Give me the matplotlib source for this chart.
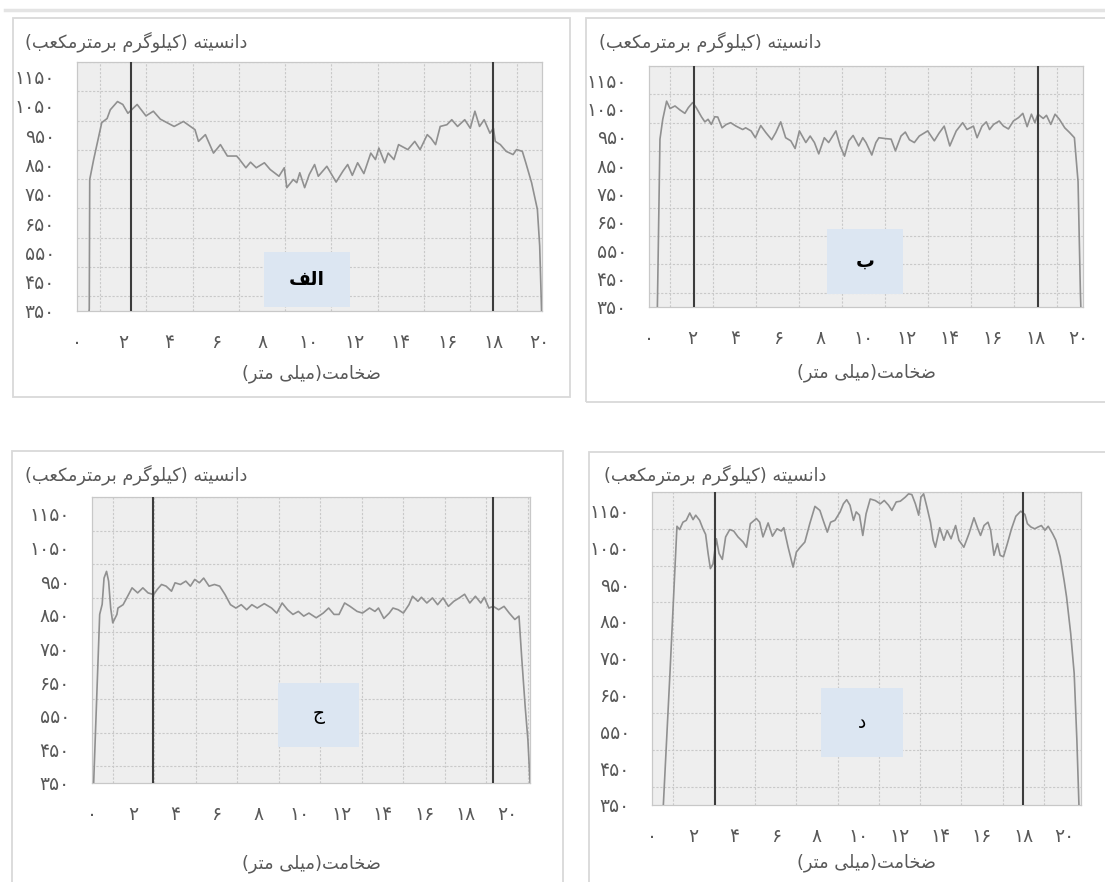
import matplotlib
matplotlib.use("Agg")
import matplotlib.pyplot as plt
from matplotlib.patches import Rectangle
from matplotlib.ticker import MultipleLocator, FixedLocator

plt.rcParams['font.family'] = ['DejaVu Sans']

# --- data: density profiles (kg/m3) across board thickness (mm) ---
x_alef = [0.45, 0.53, 0.55, 0.72, 1.07, 1.3, 1.44, 1.75, 1.98, 2.2, 2.6, 2.98, 3.3, 3.6, 4.2, 4.6,
          5.1, 5.25, 5.55, 5.9, 6.2, 6.5, 6.9, 7.0, 7.3, 7.5, 7.75, 8.1, 8.35, 8.73, 8.96, 9.07,
          9.35, 9.5, 9.63, 9.84, 10.04, 10.27, 10.43, 10.8, 11.2, 11.5, 11.7, 11.9, 12.13, 12.4,
          12.7, 12.9, 13.05, 13.3, 13.45, 13.7, 13.9, 14.3, 14.6, 14.83, 15.14, 15.3, 15.5, 15.7,
          15.99, 16.2, 16.45, 16.76, 17.0, 17.2, 17.4, 17.6, 17.85, 18.0, 18.08, 18.3, 18.55,
          18.85, 19.0, 19.25, 19.4, 19.65, 19.9, 20.0, 20.1]
y_alef = [300, 357, 799, 867, 993, 1007, 1037, 1065, 1055, 1025, 1055, 1016, 1032, 1005, 980, 997,
          969, 929, 952, 889, 918, 879, 879, 870, 839, 858, 839, 856, 833, 810, 839, 771,
          799, 788, 822, 771, 816, 850, 810, 844, 790, 828, 850, 813, 856, 819,
          889, 867, 906, 856, 889, 867, 918, 901, 929, 901, 952, 940, 918, 980,
          986, 1003, 980, 1003, 974, 1032, 980, 1003, 957, 974, 929, 918, 895,
          884, 901, 895, 856, 788, 697, 572, 300]

x_be = [0.38, 0.39, 0.51, 0.64, 0.82, 0.98, 1.21, 1.44, 1.67, 1.83, 2.03, 2.2, 2.44, 2.6, 2.75,
        2.9, 3.06, 3.2, 3.4, 3.6, 3.8, 4.05, 4.36, 4.5, 4.75, 4.95, 5.2, 5.44, 5.71, 5.9, 6.13,
        6.36, 6.6, 6.8, 7.0, 7.3, 7.5, 7.7, 7.9, 8.16, 8.36, 8.7, 8.9, 9.1, 9.3, 9.5, 9.76,
        9.95, 10.1, 10.37, 10.56, 10.7, 11.0, 11.27, 11.47, 11.73, 11.93, 12.12, 12.35, 12.58,
        12.97, 13.28, 13.5, 13.74, 14.0, 14.3, 14.6, 14.8, 15.1, 15.27, 15.5, 15.7, 15.85,
        16.04, 16.3, 16.5, 16.73, 16.96, 17.2, 17.4, 17.6, 17.8, 17.96, 18.1, 18.35, 18.5,
        18.7, 18.9, 19.1, 19.35, 19.58, 19.8, 19.97, 20.08, 20.12]
y_be = [300, 351, 942, 1012, 1076, 1050, 1059, 1045, 1033, 1053, 1071, 1053, 1021, 1003, 1012,
        994, 1021, 1020, 982, 994, 1000, 988, 976, 982, 971, 947, 990, 965, 940, 965, 1003,
        947, 936, 909, 971, 930, 953, 930, 890, 947, 930, 971, 918, 882, 936, 955, 918,
        947, 930, 886, 930, 947, 944, 942, 901, 953, 967, 940, 930, 953,
        971, 936, 963, 988, 918, 971, 1000, 976, 988, 947, 988, 1003, 976,
        994, 1006, 988, 978, 1006, 1018, 1033, 986, 1030, 1000, 1030, 1015, 1026,
        994, 1030, 1012, 982, 965, 947, 792, 397, 300]

x_jim = [0.05, 0.08, 0.37, 0.49, 0.58, 0.7, 0.8, 0.9, 1.0, 1.2, 1.25, 1.5, 1.76, 1.93, 2.2, 2.45,
         2.7, 2.97, 3.14, 3.35, 3.57, 3.83, 4.0, 4.26, 4.52, 4.74, 4.95, 5.17, 5.38, 5.64, 5.9,
         6.15, 6.41, 6.67, 6.93, 7.19, 7.45, 7.7, 7.96, 8.3, 8.65, 8.9, 9.16, 9.42, 9.68, 9.94,
         10.2, 10.45, 10.8, 11.14, 11.4, 11.66, 11.9, 12.17, 12.43, 12.77, 13.03, 13.37, 13.63,
         13.8, 14.06, 14.32, 14.5, 14.75, 15.0, 15.27, 15.44, 15.7, 15.87, 16.13, 16.4, 16.65,
         16.91, 17.17, 17.43, 17.69, 17.95, 18.2, 18.47, 18.73, 18.9, 19.12, 19.33, 19.59,
         19.85, 20.1, 20.37, 20.57, 20.7, 20.87, 21.0, 21.1, 21.12]
y_jim = [300, 350, 851, 881, 959, 979, 950, 870, 826, 851, 870, 880, 910, 930, 915, 930,
         915, 910, 925, 940, 935, 920, 945, 940, 950, 935, 955, 945, 959, 935, 940,
         935, 910, 880, 870, 880, 865, 880, 870, 883, 870, 855, 885, 865, 851, 860,
         846, 855, 841, 855, 870, 851, 851, 885, 875, 860, 855, 870, 860,
         870, 839, 855, 870, 865, 855, 880, 905, 890, 902, 885, 900, 880,
         900, 875, 890, 900, 911, 885, 905, 885, 902, 870, 875, 865,
         875, 855, 836, 846, 723, 575, 477, 355, 300]

x_dal = [0.5, 0.55, 0.87, 1.1, 1.21, 1.34, 1.5, 1.66, 1.83, 1.99, 2.12, 2.31, 2.47, 2.6, 2.72,
         2.83, 2.96, 3.12, 3.25, 3.41, 3.57, 3.77, 3.96, 4.17, 4.42, 4.58, 4.77, 5.06, 5.22,
         5.38, 5.63, 5.84, 6.06, 6.27, 6.39, 6.6, 6.84, 7.0, 7.17, 7.41, 7.65, 7.9, 8.14, 8.3,
         8.5, 8.66, 8.87, 9.12, 9.28, 9.44, 9.6, 9.77, 9.9, 10.06, 10.22, 10.38, 10.58, 10.82,
         11.07, 11.26, 11.47, 11.63, 11.84, 12.04, 12.28, 12.44, 12.6, 12.77, 12.93, 13.04,
         13.17, 13.33, 13.5, 13.63, 13.74, 13.95, 14.15, 14.31, 14.5, 14.72, 14.88, 15.12,
         15.37, 15.61, 15.8, 15.93, 16.1, 16.29, 16.42, 16.58, 16.75, 16.88, 17.04, 17.23,
         17.43, 17.64, 17.88, 18.08, 18.2, 18.37, 18.56, 18.72, 18.88, 19.05, 19.21, 19.42,
         19.58, 19.79, 19.98, 20.1, 20.3, 20.47, 20.6, 20.7, 20.75]
y_dal = [300, 350, 707, 978, 1107, 1098, 1118, 1123, 1143, 1125, 1137, 1123, 1100, 1085, 1033,
         992, 1005, 1073, 1033, 1017, 1078, 1098, 1094, 1078, 1064, 1050, 1114, 1128, 1118,
         1078, 1116, 1080, 1100, 1094, 1103, 1050, 996, 1037, 1049, 1064, 1114, 1161, 1150, 1123,
         1091, 1118, 1123, 1146, 1168, 1179, 1164, 1123, 1146, 1137, 1082, 1141, 1181, 1177,
         1168, 1177, 1164, 1150, 1173, 1175, 1186, 1195, 1193, 1168, 1137, 1186,
         1195, 1159, 1118, 1069, 1050, 1103, 1069, 1096, 1073, 1109, 1069, 1050,
         1087, 1130, 1100, 1082, 1109, 1118, 1096, 1028, 1060, 1028, 1024, 1060,
         1100, 1134, 1148, 1139, 1114, 1105, 1100, 1105, 1109, 1096, 1107, 1087,
         1069, 1024, 960, 915, 816, 707, 526, 350, 300]

series_x = [x_alef, x_be, x_jim, x_dal]
series_y = [y_alef, y_be, y_jim, y_dal]
panel_names = ['الف', 'ب', 'ج', 'د']
surface_lines = [(2.35, 18.0), (2.1, 18.1), (2.95, 19.3), (3.05, 18.0)]
x_max = [20.1, 20.2, 21.1, 20.8]
y_ticks = [350, 450, 550, 650, 750, 850, 950, 1050, 1150]
x_ticks = [0, 2, 4, 6, 8, 10, 12, 14, 16, 18, 20]
y_title = 'دانسیته (کیلوگرم برمترمکعب)'
x_title = 'ضخامت(میلی متر)'

# --- simple Persian shaping: contextual forms + visual (reversed) order ---
FORMS = {
    'ا': ('\uFE8D', '\uFE8E', None, None),
    'ب': ('\uFE8F', '\uFE90', '\uFE91', '\uFE92'),
    'ت': ('\uFE95', '\uFE96', '\uFE97', '\uFE98'),
    'ج': ('\uFE9D', '\uFE9E', '\uFE9F', '\uFEA0'),
    'خ': ('\uFEA5', '\uFEA6', '\uFEA7', '\uFEA8'),
    'د': ('\uFEA9', '\uFEAA', None, None),
    'ر': ('\uFEAD', '\uFEAE', None, None),
    'س': ('\uFEB1', '\uFEB2', '\uFEB3', '\uFEB4'),
    'ض': ('\uFEBD', '\uFEBE', '\uFEBF', '\uFEC0'),
    'ع': ('\uFEC9', '\uFECA', '\uFECB', '\uFECC'),
    'ف': ('\uFED1', '\uFED2', '\uFED3', '\uFED4'),
    'ل': ('\uFEDD', '\uFEDE', '\uFEDF', '\uFEE0'),
    'م': ('\uFEE1', '\uFEE2', '\uFEE3', '\uFEE4'),
    'ن': ('\uFEE5', '\uFEE6', '\uFEE7', '\uFEE8'),
    'ه': ('\uFEE9', '\uFEEA', '\uFEEB', '\uFEEC'),
    'و': ('\uFEED', '\uFEEE', None, None),
    'ک': ('\uFB8E', '\uFB8F', '\uFB90', '\uFB91'),
    'گ': ('\uFB92', '\uFB93', '\uFB94', '\uFB95'),
    'ی': ('\uFBFC', '\uFBFD', '\uFBFE', '\uFBFF'),
}


def fa(text, mirror=True):
    out = []
    for i, c in enumerate(text):
        if c not in FORMS:
            out.append(c)
            continue
        iso, fin, ini, med = FORMS[c]
        prev = text[i - 1] if i > 0 else None
        nxt = text[i + 1] if i + 1 < len(text) else None
        jp = prev in FORMS and FORMS[prev][2] is not None
        jn = ini is not None and nxt in FORMS
        if jp and jn:
            out.append(med)
        elif jp:
            out.append(fin)
        elif jn:
            out.append(ini)
        else:
            out.append(iso)
    out = out[::-1]
    if mirror:
        out = [{'(': ')', ')': '('}.get(c, c) for c in out]
    return ''.join(out)


FA_DIGITS = str.maketrans('0123456789', '۰۱۲۳۴۵۶۷۸۹')


def fa_num(v):
    return str(v).translate(FA_DIGITS)


W, H = 1105, 882
fig = plt.figure(figsize=(W / 100, H / 100), dpi=100)


def box(l, t, r, b):
    # pixel box (top-left origin) -> figure fraction rect
    return [l / W, 1 - b / H, (r - l) / W, (b - t) / H]


frames = [(13, 18, 570, 397), (586, 18, 1110, 402), (12, 451, 563, 890), (589, 452, 1110, 890)]
plots = [(77, 62, 542, 311), (649, 66, 1083, 307), (92, 497, 530, 783), (652, 492, 1081, 805)]
label_boxes = [(264, 252, 350, 307), (827, 229, 903, 294), (278, 683, 359, 747), (821, 688, 903, 757)]
ytitle_pos = [(25, 42), (599, 42), (25, 475), (604, 475)]
xtitle_pos = [(311, 374), (866, 373), (311, 864), (866, 863)]

text_col = '#595959'

# faint strip along the top
fig.add_artist(plt.Line2D([5 / W, 1], [1 - 10 / H, 1 - 10 / H], color='#e4e4e4', lw=2.5,
                          transform=fig.transFigure))

for k in range(4):
    fl, ft, fr, fb = frames[k]
    fig.add_artist(Rectangle((fl / W, 1 - fb / H), (fr - fl) / W, (fb - ft) / H,
                             transform=fig.transFigure, fill=False, ec='#d9d9d9', lw=1.3))

    ax = fig.add_axes(box(*plots[k]))
    ax.set_facecolor('#eeeeee')
    ax.set_xlim(0, x_max[k])
    ax.set_ylim(350, 1200)

    # grid
    ax.xaxis.set_minor_locator(MultipleLocator(1))
    ax.yaxis.set_minor_locator(MultipleLocator(50))
    ax.grid(which='minor', axis='both', color='#c9c9c9', lw=0.8, ls=(0, (2, 1.5)))
    ax.set_axisbelow(True)

    ax.plot(series_x[k], series_y[k], color='#909090', lw=1.2, zorder=3, clip_on=True)
    for xv in surface_lines[k]:
        ax.axvline(xv, color='#3c3c3c', lw=1.5, zorder=4)

    ax.xaxis.set_major_locator(FixedLocator(x_ticks))
    ax.yaxis.set_major_locator(FixedLocator(y_ticks))
    ax.set_xticklabels([fa_num(v) for v in x_ticks])
    ax.set_yticklabels([fa_num(v) for v in y_ticks])
    ax.tick_params(which='both', length=0, colors=text_col, labelsize=13.5)
    ax.tick_params(axis='x', pad=16)
    ax.tick_params(axis='y', pad=16)
    for s in ax.spines.values():
        s.set_color('#c8c8c8')
        s.set_linewidth(0.9)

    # panel letter
    bl, bt, br, bb = label_boxes[k]
    fig.add_artist(Rectangle((bl / W, 1 - bb / H), (br - bl) / W, (bb - bt) / H,
                             transform=fig.transFigure, fc='#dce6f2', ec='none', zorder=5))
    fig.text((bl + br) / 2 / W, 1 - (bt + bb) / 2 / H, fa(panel_names[k]),
             ha='center', va='center', fontsize=13.5, color='black',
             fontweight='bold' if k < 2 else 'normal', zorder=6)

    tx, ty = ytitle_pos[k]
    fig.text(tx / W, 1 - ty / H, fa(y_title), ha='left', va='center', fontsize=12.8, color=text_col)
    tx, ty = xtitle_pos[k]
    fig.text(tx / W, 1 - ty / H, fa(x_title), ha='center', va='center', fontsize=12.8, color=text_col)

fig.savefig('out.png', dpi=100)
